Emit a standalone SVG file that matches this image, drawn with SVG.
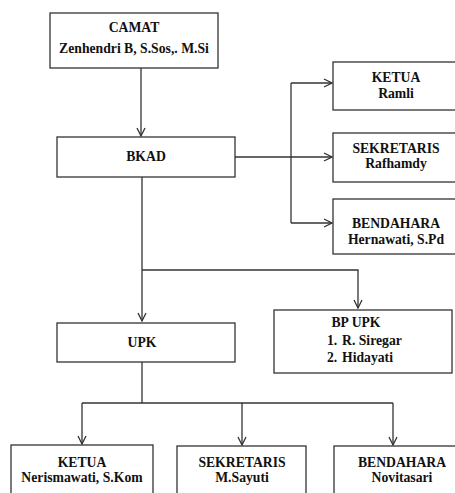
<svg xmlns="http://www.w3.org/2000/svg" width="455" height="493" viewBox="0 0 455 493">
<defs>
<marker id="arr" viewBox="0 0 10 10" refX="9" refY="5" markerWidth="10" markerHeight="10" markerUnits="userSpaceOnUse" orient="auto">
<path d="M1,1 L9,5 L1,9" fill="none" stroke="#333" stroke-width="1.3"/>
</marker>
</defs>
<style>
rect{fill:#fff;stroke:#333;stroke-width:1.3}
text{font-family:"Liberation Serif","Times New Roman",serif;font-weight:bold;font-size:13.7px;fill:#111;text-anchor:middle}
.c{fill:none;stroke:#333;stroke-width:1.3}
.l{text-anchor:start}
</style>
<rect x="0" y="0" width="455" height="493" style="fill:#fff;stroke:none"/>
<g id="connectors">
<path class="c" d="M141,68 V136" marker-end="url(#arr)"/>
<path class="c" d="M235,157 H291"/>
<path class="c" d="M291,83 V223"/>
<path class="c" d="M291,83 H332" marker-end="url(#arr)"/>
<path class="c" d="M291,157 H332" marker-end="url(#arr)"/>
<path class="c" d="M291,223 H332" marker-end="url(#arr)"/>
<path class="c" d="M142,177 V321" marker-end="url(#arr)"/>
<path class="c" d="M142,270 H358 V308" marker-end="url(#arr)"/>
<path class="c" d="M142,362 V403"/>
<path class="c" d="M82,403 H393"/>
<path class="c" d="M82,403 V444" marker-end="url(#arr)"/>
<path class="c" d="M242,403 V445" marker-end="url(#arr)"/>
<path class="c" d="M393,403 V445" marker-end="url(#arr)"/>
</g>
<g id="camat">
<rect x="50" y="13" width="168" height="55"/>
<text x="134" y="32">CAMAT</text>
<text x="134" y="53">Zenhendri B, S.Sos,. M.Si</text>
</g>
<g id="bkad">
<rect x="57" y="137" width="178" height="40"/>
<text x="146" y="161">BKAD</text>
</g>
<g id="ketua-bkad">
<rect x="333" y="62" width="130" height="48"/>
<text x="396" y="82">KETUA</text>
<text x="396" y="98">Ramli</text>
</g>
<g id="sekretaris-bkad">
<rect x="333" y="133" width="130" height="49"/>
<text x="396" y="153">SEKRETARIS</text>
<text x="396" y="168">Rafhamdy</text>
</g>
<g id="bendahara-bkad">
<rect x="333" y="199" width="130" height="55"/>
<text x="396" y="228">BENDAHARA</text>
<text x="396" y="244">Hernawati, S.Pd</text>
</g>
<g id="upk">
<rect x="57" y="323" width="178" height="39"/>
<text x="142" y="347">UPK</text>
</g>
<g id="bpupk">
<rect x="274" y="310" width="178" height="63"/>
<text x="356" y="327">BP UPK</text>
<text class="l" x="327" y="345">1.</text>
<text class="l" x="342" y="345">R. Siregar</text>
<text class="l" x="327" y="362">2.</text>
<text class="l" x="342" y="362">Hidayati</text>
</g>
<g id="ketua-upk">
<rect x="11" y="445" width="142" height="60"/>
<text x="82" y="467">KETUA</text>
<text x="82" y="482">Nerismawati, S.Kom</text>
</g>
<g id="sekretaris-upk">
<rect x="177" y="446" width="129" height="60"/>
<text x="242" y="467">SEKRETARIS</text>
<text x="242" y="482">M.Sayuti</text>
</g>
<g id="bendahara-upk">
<rect x="334" y="446" width="136" height="60"/>
<text x="402" y="467">BENDAHARA</text>
<text x="402" y="482">Novitasari</text>
</g>
</svg>
